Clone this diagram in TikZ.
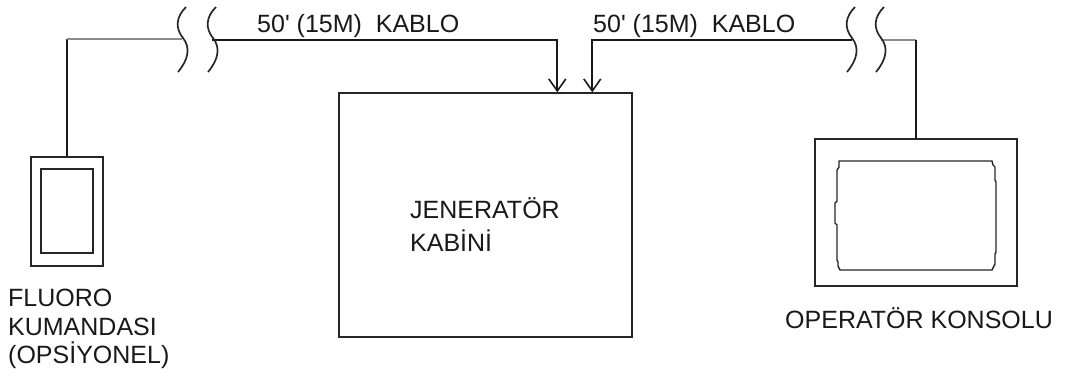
\documentclass[tikz,border=0pt]{standalone}
\usepackage{fontspec}
\setmainfont{Liberation Sans}[Ligatures=TeXOff]
\usetikzlibrary{arrows.meta}
\begin{document}
\begin{tikzpicture}[x=1pt,y=-1pt,
  box/.style={draw=black!85, line width=1.4pt, inner sep=0pt},
  cable/.style={draw=black!90, line width=2.2pt},
  greycable/.style={draw=black!45, line width=1.8pt},
  squig/.style={draw=black!85, line width=1.7pt},
  lbl/.style={font=\fontsize{25}{30}\selectfont, text=black!90, inner sep=0pt, anchor=base west},
  tip/.style={-{Straight Barb[length=12pt,width=17pt,line width=1.6pt]}},
]
\useasboundingbox (0,0) rectangle (1072,381);

% boxes
\node[box, minimum width=293pt, minimum height=244pt] (gen) at (485.5,215) {};
\node[box, minimum width=72pt, minimum height=109pt] (flo) at (67,211.5) {};
\node[box, minimum width=52pt, minimum height=84pt] (floin) at (67,211) {};
\node[box, minimum width=202pt, minimum height=147pt] (con) at (916,212.5) {};

% console screen
\draw[box] (839,161) -- (992,161) -- (993,165) -- (995,167) -- (995,180) -- (996,182)
  -- (996,252) -- (995,254) -- (995,264) -- (993,268) -- (992,270)
  -- (840,270) -- (838,266) -- (838,262) -- (837,260) -- (837,225) -- (835,223)
  -- (835,203) -- (837,201) -- (837,170) -- (839,167) -- cycle;

% cable coordinates
\coordinate (fcorner) at (flo.north |- 0,39);
\coordinate (lbreakA) at (182,39);
\coordinate (lbreakB) at (212,40);
\coordinate (in1) at ([xshift=219pt]gen.north west);
\coordinate (in2) at ([xshift=254pt]gen.north west);
\coordinate (rbreakA) at (852,40);
\coordinate (rbreakB) at (881,40);
\coordinate (ccorner) at (con.north |- 0,40);

% left cable
\draw[cable] (flo.north) -- (fcorner);
\draw[greycable] (fcorner) -- (lbreakA);
\draw[cable, tip] (lbreakB) -| (in1);

% right cable
\draw[cable, tip] (rbreakA) -| (in2);
\draw[greycable] (rbreakB) -- (ccorner);
\draw[cable] (ccorner) -- (con.north);

% break squiggles
\foreach \dx in {0,30} {
  \draw[squig] (186+\dx,7) .. controls (176+\dx,17) and (175+\dx,28) .. (183+\dx,38)
     .. controls (191+\dx,48) and (188+\dx,60) .. (178+\dx,72);
}
\foreach \dx in {0,29} {
  \draw[squig] (855+\dx,7) .. controls (845+\dx,17) and (844+\dx,28) .. (852+\dx,38)
     .. controls (860+\dx,48) and (857+\dx,60) .. (847+\dx,72);
}

% labels
\node[lbl] (k1) at (257,32) {50' (15M)\ \ KABLO};
\node[lbl] (k2) at (593,32) {50' (15M)\ \ KABLO};
\node[lbl] (g1) at (410,218) {JENERATÖR};
\node[lbl] (g2) at (410,251) {KABİNİ};
\node[lbl] (f1) at (8,306) {FLUORO};
\node[lbl] (f2) at (8,335) {KUMANDASI};
\node[lbl] (f3) at (8,363) {(OPSİYONEL)};
\node[lbl] (c1) at (785,328) {OPERATÖR KONSOLU};
\end{tikzpicture}
\end{document}
